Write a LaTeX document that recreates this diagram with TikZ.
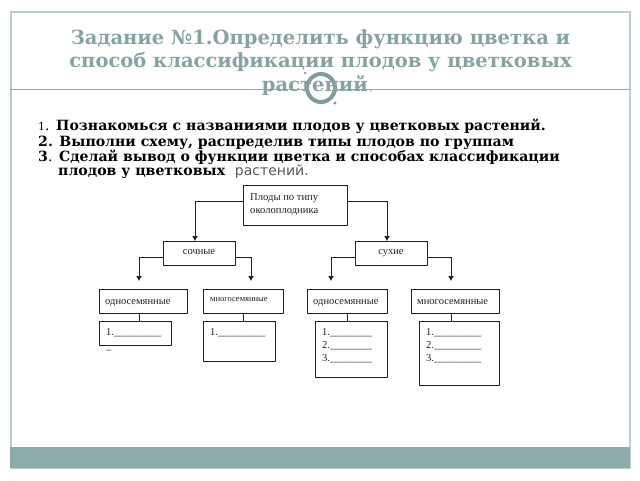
\documentclass[tikz,border=0pt]{standalone}
\usepackage{fontspec}
\setmainfont{Liberation Serif}
\newfontfamily\dvs{DejaVu Serif}
\newfontfamily\dvn{DejaVu Sans}
\definecolor{band}{HTML}{8CABAB}
\definecolor{frameline}{HTML}{BCCDCD}
\definecolor{ring}{HTML}{7F9C9C}
\definecolor{ttl}{HTML}{86A3A3}
\definecolor{ink}{HTML}{222222}
\usetikzlibrary{arrows.meta}
\tikzset{
  x=1pt,y=-1pt,
  box/.style={draw=ink,line width=0.95pt,minimum width=#1,inner sep=0pt,fill=white,text depth=2pt,font=\fontsize{10.5}{12}\selectfont,text=ink},
  conn/.style={draw=ink,line width=0.95pt},
  arr/.style={conn,-{Latex[length=5pt,width=6pt]}},
  ttlline/.style={font=\dvs\bfseries\fontsize{19.5}{24}\selectfont,text=ttl,inner sep=0pt},
  item/.style={anchor=base west,inner sep=0pt,text=black,font=\dvs\bfseries\fontsize{14.1}{14}\selectfont},
  lst/.style={anchor=base west,inner sep=0pt,text=ink,font=\fontsize{10.5}{12}\selectfont},
  toptext/.style={anchor=base west,inner sep=0pt,font=\fontsize{10.6}{12}\selectfont,text=ink}
}
\begin{document}
\begin{tikzpicture}
\useasboundingbox (0,0) rectangle (640,480);
\fill[white] (0,0) rectangle (640,480);
\draw[frameline,line width=2pt] (10.5,12) rectangle (629.5,468);
\draw[ring!85!white,line width=1pt] (10,89.5) -- (630,89.5);
\fill[band] (10,447) rectangle (630,468);
\draw[ring,line width=4pt,fill=white] (321,88) circle (14);
\fill[ring] (305,73) circle (1.4) (335,103) circle (1.6);
\node[ttlline] (t1) at (320.5,39) {Задание №1.Определить функцию цветка и};
\node[ttlline] (t2) at (320.5,62) {способ классификации плодов у цветковых};
\node[ttlline] (t3) at (318,86) {растений\textcolor{ttl!70!white}{\mdseries .}};
\node[item] (i1) at (38,130) {{\mdseries\fontsize{11}{12}\selectfont 1}{\mdseries .} Познакомься с названиями плодов у цветковых растений.};
\node[item] (i2) at (38,146) {2. Выполни схему, распределив типы плодов по группам};
\node[item] (i3) at (38,161.5) {3{\mdseries .} Сделай вывод о функции цветка и способах классификации};
\node[item] (i4) at (58,175.5) {плодов у цветковых \ {\dvn\mdseries\fontsize{14}{14}\selectfont\color{ink!75!white} растений.}};

\node[box=104pt,minimum height=40pt] (top) at (295,205) {};
\node[toptext] (top1) at (250,200) {Плоды по типу};
\node[toptext] (top2) at (250,213) {околоплодника};
\node[box=72pt,minimum height=24pt] (soch) at (199,253) {сочные};
\node[box=72pt,minimum height=24pt] (such) at (391,253) {сухие};
\node[box=88pt,minimum height=24pt] (o1) at (143,301) {};
\node[lst] at (105,304) {односемянные};
\node[box=80pt,minimum height=24pt] (m1) at (243,301) {};
\node[lst,font=\fontsize{8.5}{9}\selectfont] at (210,301) {многосемянные};
\node[box=80pt,minimum height=24pt] (o2) at (347,301) {};
\node[lst] at (313,304) {односемянные};
\node[box=88pt,minimum height=24pt] (m2) at (455,301) {};
\node[lst] at (417,304) {многосемянные};
\node[box=72pt,minimum height=24pt] (l1) at (135,333) {};
\node[lst] (l1a) at (106,335) {1.\_\_\_\_\_\_\_\_\_};
\node[lst] (l1b) at (106,349) {\_};
\node[box=72pt,minimum height=40pt] (l2) at (239,341) {};
\node[lst] (l2a) at (210,335) {1.\_\_\_\_\_\_\_\_\_};
\node[box=72pt,minimum height=56pt] (l3) at (351,349) {};
\node[lst] (l3a) at (322,335) {1.\_\_\_\_\_\_\_\_};
\node[lst] (l3b) at (322,348) {2.\_\_\_\_\_\_\_\_};
\node[lst] (l3c) at (322,361) {3.\_\_\_\_\_\_\_\_};
\node[box=80pt,minimum height=64pt] (l4) at (459,353) {};
\node[lst] (l4a) at (426,335) {1.\_\_\_\_\_\_\_\_\_};
\node[lst] (l4b) at (426,348) {2.\_\_\_\_\_\_\_\_\_};
\node[lst] (l4c) at (426,361) {3.\_\_\_\_\_\_\_\_\_};

\coordinate (a1) at (139,281);
\coordinate (a2) at (251,281);
\coordinate (a3) at (331,281);
\coordinate (a4) at (451,281);
\coordinate (s1) at (195,241);
\coordinate (s2) at (387,241);
\draw[arr] ([yshift=4pt]top.west) -| (s1);
\draw[arr] ([yshift=4pt]top.east) -| (s2);
\draw[arr] ([yshift=-4pt]soch.west) -| (a1);
\draw[arr] ([yshift=-4pt]soch.east) -| (a2);
\draw[arr] ([yshift=-4pt]such.west) -| (a3);
\draw[arr] ([yshift=-4pt]such.east) -| (a4);
\draw[conn] (o1.south -| a1) -- (l1.north -| a1);
\draw[conn] (m1.south) -- (l2.north -| m1);
\draw[conn] (o2.south) -- (l3.north -| o2);
\draw[conn] (m2.south -| a4) -- (l4.north -| a4);
\end{tikzpicture}
\end{document}
